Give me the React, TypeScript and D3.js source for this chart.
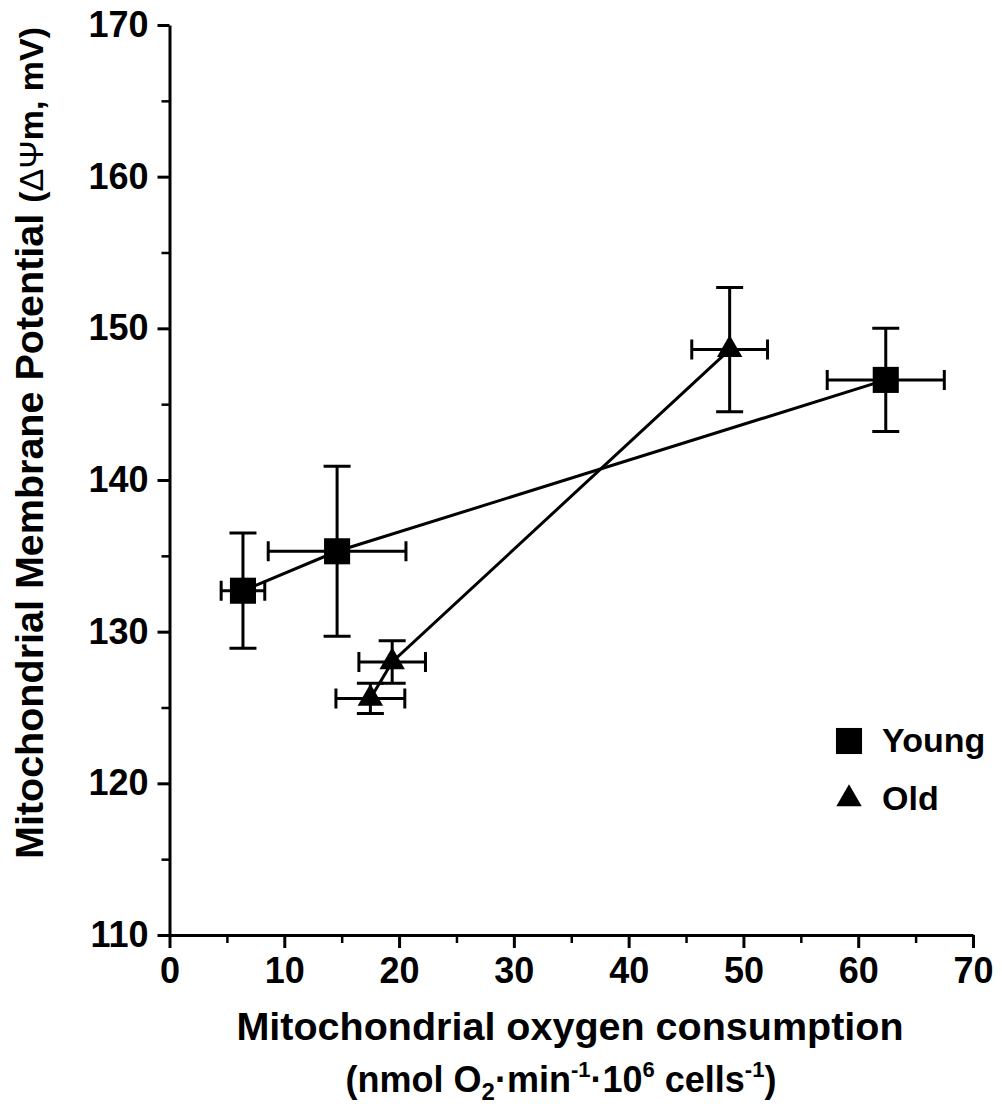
import React, { useEffect, useRef } from "react";
import * as d3 from "d3";

// axis ticks
const xTicks = [0, 10, 20, 30, 40, 50, 60, 70];
const xMinor = [5, 15, 25, 35, 45, 55, 65];
const yTicks = [110, 120, 130, 140, 150, 160, 170];
const yMinor = [115, 125, 135, 145, 155, 165];

// Young cells (mean +/- error)
const youngX = [6.4, 14.6, 62.4];
const youngY = [132.7, 135.3, 146.6];
const youngXErr = [1.9, 6.0, 5.1];
const youngYErr = [3.8, 5.6, 3.4];

// Old cells
const oldX = [17.5, 19.4, 48.8];
const oldY = [125.6, 128.0, 148.6];
const oldXErr = [3.0, 2.9, 3.3];
const oldYErr = [1.0, 1.4, 4.1];

const seriesNames = ["Young", "Old"];

const FONT = "'Liberation Sans', Arial, Helvetica, sans-serif";

function drawChart(node: SVGSVGElement) {
  const svg = d3.select(node);
  svg.selectAll("*").remove();

  const x = d3.scaleLinear().domain([0, 70]).range([169.5, 973]);
  const y = d3.scaleLinear().domain([110, 170]).range([935, 25]);

  const xAxis = d3.axisBottom(x).tickValues(xTicks).tickSize(13).tickSizeOuter(0).tickPadding(9);
  const yAxis = d3.axisLeft(y).tickValues(yTicks).tickSize(12).tickSizeOuter(0).tickPadding(9);

  const styleAxis = (g: any) => {
    g.select(".domain").attr("stroke", "#000").attr("stroke-width", 3);
    g.selectAll(".tick line").attr("stroke", "#000").attr("stroke-width", 3);
    g.selectAll(".tick text")
      .attr("fill", "#000")
      .attr("font-family", FONT)
      .attr("font-weight", "bold")
      .attr("font-size", 36);
  };

  svg.append("g").attr("transform", "translate(0,935)").call(xAxis).call(styleAxis);
  svg.append("g").attr("transform", "translate(169.5,0)").call(yAxis).call(styleAxis);

  // minor ticks
  svg
    .append("g")
    .attr("transform", "translate(0,935)")
    .call(d3.axisBottom(x).tickValues(xMinor).tickSize(8).tickSizeOuter(0).tickFormat(() => ""))
    .call((g: any) => {
      g.select(".domain").remove();
      g.selectAll(".tick line").attr("stroke", "#000").attr("stroke-width", 2.5);
    });
  svg
    .append("g")
    .attr("transform", "translate(169.5,0)")
    .call(d3.axisLeft(y).tickValues(yMinor).tickSize(8).tickSizeOuter(0).tickFormat(() => ""))
    .call((g: any) => {
      g.select(".domain").remove();
      g.selectAll(".tick line").attr("stroke", "#000").attr("stroke-width", 2.5);
    });

  const series = [
    { name: "Young", xs: youngX, ys: youngY, xe: youngXErr, ye: youngYErr, sym: d3.symbolSquare, size: 680 },
    { name: "Old", xs: oldX, ys: oldY, xe: oldXErr, ye: oldYErr, sym: d3.symbolTriangle, size: 280 }
  ];

  series.forEach(s => {
    const idx = d3.range(s.xs.length);
    const g = svg.append("g");

    // connecting line
    const ln = d3
      .line<number>()
      .x(i => x(s.xs[i]))
      .y(i => y(s.ys[i]));
    g.append("path")
      .attr("d", ln(idx))
      .attr("fill", "none")
      .attr("stroke", "#000")
      .attr("stroke-width", 3);

    // error bars
    const capV = 13.5;
    const capH = 10;
    idx.forEach(i => {
      const cx = x(s.xs[i]);
      const cy = y(s.ys[i]);
      const x0 = x(s.xs[i] - s.xe[i]);
      const x1 = x(s.xs[i] + s.xe[i]);
      const y0 = y(s.ys[i] - s.ye[i]);
      const y1 = y(s.ys[i] + s.ye[i]);
      const p = d3.path();
      p.moveTo(cx, y0);
      p.lineTo(cx, y1);
      p.moveTo(cx - capV, y0);
      p.lineTo(cx + capV, y0);
      p.moveTo(cx - capV, y1);
      p.lineTo(cx + capV, y1);
      p.moveTo(x0, cy);
      p.lineTo(x1, cy);
      p.moveTo(x0, cy - capH);
      p.lineTo(x0, cy + capH);
      p.moveTo(x1, cy - capH);
      p.lineTo(x1, cy + capH);
      g.append("path")
        .attr("d", p.toString())
        .attr("fill", "none")
        .attr("stroke", "#000")
        .attr("stroke-width", 3);
    });

    // markers
    g.selectAll("path.marker")
      .data(idx)
      .join("path")
      .attr("class", "marker")
      .attr("transform", i => `translate(${x(s.xs[i])},${y(s.ys[i])})`)
      .attr("d", d3.symbol().type(s.sym).size(s.size)() as string)
      .attr("fill", "#000");
  });

  // legend
  const lg = svg
    .selectAll("g.legend")
    .data(series)
    .join("g")
    .attr("class", "legend")
    .attr("transform", (d, i) => `translate(849,${741 + i * 58})`);
  lg.append("path")
    .attr("d", d => d3.symbol().type(d.sym).size(d.size)() as string)
    .attr("fill", "#000");
  lg.append("text")
    .attr("x", 33)
    .attr("y", 11)
    .attr("font-family", FONT)
    .attr("font-weight", "bold")
    .attr("font-size", 34)
    .text((d, i) => seriesNames[i]);

  // x title
  svg
    .append("text")
    .attr("x", 570)
    .attr("y", 1040)
    .attr("text-anchor", "middle")
    .attr("font-family", FONT)
    .attr("font-weight", "bold")
    .attr("font-size", 39.5)
    .text("Mitochondrial oxygen consumption");

  const sub = svg
    .append("text")
    .attr("x", 561)
    .attr("y", 1092)
    .attr("text-anchor", "middle")
    .attr("font-family", FONT)
    .attr("font-weight", "bold")
    .attr("font-size", 36);
  sub.append("tspan").text("(nmol O");
  sub.append("tspan").attr("font-size", 24).attr("dy", 8).text("2");
  sub.append("tspan").attr("dy", -8).text("\u00b7min");
  sub.append("tspan").attr("font-size", 22).attr("dy", -15).text("-1");
  sub.append("tspan").attr("dy", 15).text("\u00b710");
  sub.append("tspan").attr("font-size", 22).attr("dy", -15).text("6");
  sub.append("tspan").attr("dy", 15).text(" cells");
  sub.append("tspan").attr("font-size", 22).attr("dy", -15).text("-1");
  sub.append("tspan").attr("dy", 15).text(")");

  // y title
  const yt = svg
    .append("text")
    .attr("transform", "translate(43,443) rotate(-90)")
    .attr("text-anchor", "middle")
    .attr("font-family", FONT)
    .attr("font-weight", "bold")
    .attr("font-size", 39.5);
  yt.append("tspan").text("Mitochondrial Membrane Potential ");
  yt.append("tspan").attr("font-size", 34).text("(");
  yt.append("tspan").attr("font-size", 34).attr("font-weight", "normal").text("\u0394\u03a8");
  yt.append("tspan").attr("font-size", 34).text("m, mV)");
}

export default function App() {
  const ref = useRef<SVGSVGElement>(null);

  useEffect(() => {
    if (ref.current) drawChart(ref.current);
  }, []);

  return (
    <svg
      ref={ref}
      width={1002}
      height={1106}
      style={{ position: "absolute", left: 0, top: 0, background: "#fff" }}
    />
  );
}
